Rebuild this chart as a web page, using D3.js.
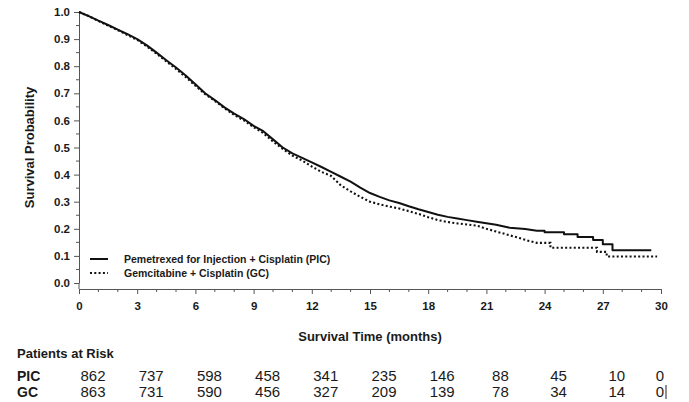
<!DOCTYPE html>
<html>
<head>
<meta charset="utf-8">
<script src="https://cdn.jsdelivr.net/npm/d3@7"></script>
<style>
  html, body { margin: 0; padding: 0; background: #fff; }
  svg { display: block; }
  text { font-family: "Liberation Sans", Arial, sans-serif; fill: #1a1a1a; }
</style>
</head>
<body>
<svg id="chart" width="689" height="402"></svg>
<script>
// ---- Data ----
// Kaplan-Meier estimates; repeated times mark the visible vertical drops of the tail steps.
const picTimes = [0,0.5,1,1.5,2,2.5,3,3.5,4,4.5,5,5.5,6,6.5,7,7.5,8,8.5,9,9.5,10,10.5,11,11.5,12,12.5,13,13.5,14,14.5,15,15.5,16,16.5,17,17.5,18,18.5,19,19.5,20,20.5,21.5,22.2,23,23.6,24,24,25,25,25.7,25.7,26.5,26.5,27,27,27.5,27.5,29.5];
const picSurv  = [1,0.985,0.968,0.952,0.935,0.918,0.900,0.877,0.850,0.822,0.795,0.766,0.733,0.70,0.675,0.648,0.625,0.605,0.58,0.56,0.53,0.50,0.478,0.462,0.445,0.428,0.41,0.392,0.374,0.352,0.332,0.318,0.305,0.295,0.283,0.272,0.262,0.252,0.244,0.238,0.232,0.226,0.215,0.204,0.199,0.193,0.193,0.187,0.187,0.18,0.18,0.17,0.17,0.159,0.159,0.143,0.143,0.121,0.121];

const gcTimes = [0,0.5,1,1.5,2,2.5,3,3.5,4,4.5,5,5.5,6,6.5,7,7.5,8,8.5,9,9.5,10,10.5,11,11.5,12,12.5,13,13.5,14,14.5,15,15.5,16,16.5,17,17.5,18,18.5,19,19.5,20,20.5,21,21.5,22,22.7,23.2,23.6,24.3,24.3,26.7,26.7,27.2,27.2,29.8];
const gcSurv  = [1,0.985,0.967,0.95,0.933,0.915,0.897,0.873,0.846,0.818,0.79,0.76,0.728,0.697,0.672,0.645,0.62,0.60,0.575,0.553,0.522,0.495,0.47,0.452,0.43,0.41,0.395,0.36,0.338,0.318,0.30,0.29,0.282,0.275,0.265,0.255,0.243,0.232,0.225,0.22,0.216,0.212,0.20,0.19,0.18,0.166,0.155,0.148,0.148,0.13,0.13,0.115,0.115,0.098,0.098];

const riskTimes = [0,3,6,9,12,15,18,21,24,27,30];
const picRisk = [862,737,598,458,341,235,146,88,45,10,0];
const gcRisk  = [863,731,590,456,327,209,139,78,34,14,0];

const xTicks = [0,3,6,9,12,15,18,21,24,27,30];
const yTicks = [0,0.1,0.2,0.3,0.4,0.5,0.6,0.7,0.8,0.9,1.0];

const seriesNames = ["Pemetrexed for Injection + Cisplatin (PIC)", "Gemcitabine + Cisplatin (GC)"];
const rowLabels = ["PIC", "GC"];

// ---- Layout ----
const svg = d3.select("#chart");
const x = d3.scaleLinear().domain([0, 30]).range([79, 661]);
const y = d3.scaleLinear().domain([0, 1]).range([283, 12]);
const xAxisY = 289;

// Y axis
const yAxis = d3.axisLeft(y).tickValues(yTicks).tickFormat(d3.format(".1f")).tickSize(5).tickSizeOuter(0).tickPadding(4);
const gy = svg.append("g").attr("transform", `translate(${x(0)},0)`).call(yAxis);
gy.selectAll("text").attr("font-size", 11.5).attr("font-weight", "bold");
gy.select(".domain").attr("stroke", "#555");
gy.selectAll(".tick line").attr("stroke", "#555");
svg.append("g").selectAll("line").data(d3.range(0.05, 1, 0.1)).join("line")
  .attr("x1", x(0) - 3).attr("x2", x(0)).attr("y1", d => y(d)).attr("y2", d => y(d)).attr("stroke", "#555");
svg.append("line").attr("x1", x(0)).attr("x2", x(0)).attr("y1", y(0)).attr("y2", xAxisY).attr("stroke", "#555");

// X axis
const xAxis = d3.axisBottom(x).tickValues(xTicks).tickSize(5).tickSizeOuter(0).tickPadding(8);
const gx = svg.append("g").attr("transform", `translate(0,${xAxisY})`).call(xAxis);
gx.selectAll("text").attr("font-size", 11.5).attr("font-weight", "bold");
gx.select(".domain").attr("stroke", "#555");
gx.selectAll(".tick line").attr("stroke", "#555");
svg.append("g").selectAll("line").data(d3.range(1, 30).filter(d => d % 3 !== 0)).join("line")
  .attr("x1", d => x(d)).attr("x2", d => x(d)).attr("y1", xAxisY).attr("y2", xAxisY + 3).attr("stroke", "#555");

// Axis titles
svg.append("text").attr("transform", `translate(34,${(y(0)+y(1))/2}) rotate(-90)`)
  .attr("text-anchor", "middle").attr("font-size", 13).attr("font-weight", "bold").text("Survival Probability");
svg.append("text").attr("x", x(15)).attr("y", 341)
  .attr("text-anchor", "middle").attr("font-size", 13).attr("font-weight", "bold").text("Survival Time (months)");

// Curves
const line = d3.line().x(d => x(d[0])).y(d => y(d[1])).curve(d3.curveLinear);
const picData = picTimes.map((t, i) => [t, picSurv[i]]);
const gcData = gcTimes.map((t, i) => [t, gcSurv[i]]);

svg.append("path").datum(gcData).attr("d", line).attr("fill", "none")
  .attr("stroke", "#111").attr("stroke-width", 2.1).attr("stroke-dasharray", "2,2.3");
svg.append("path").datum(picData).attr("d", line).attr("fill", "none")
  .attr("stroke", "#111").attr("stroke-width", 2).attr("stroke-linejoin", "round");

// Legend
const legend = svg.append("g");
const legY = [259, 273];
legend.append("line").attr("x1", 90).attr("x2", 108).attr("y1", legY[0]).attr("y2", legY[0])
  .attr("stroke", "#111").attr("stroke-width", 2);
legend.append("line").attr("x1", 90).attr("x2", 108).attr("y1", legY[1]).attr("y2", legY[1])
  .attr("stroke", "#111").attr("stroke-width", 2.1).attr("stroke-dasharray", "2,2.3");
seriesNames.forEach((name, i) => {
  legend.append("text").attr("x", 124).attr("y", legY[i] + 3.8)
    .attr("font-size", 10.5).attr("font-weight", "bold").text(name);
});

// Patients at risk
svg.append("text").attr("x", 17).attr("y", 358).attr("font-size", 13).attr("font-weight", "bold").text("Patients at Risk");
const rowY = [381, 397];
[picRisk, gcRisk].forEach((vals, r) => {
  svg.append("text").attr("x", 17).attr("y", rowY[r]).attr("font-size", 14).attr("font-weight", "bold").text(rowLabels[r]);
  svg.append("g").selectAll("text").data(vals).join("text")
    .attr("x", (d, i) => i === vals.length - 1 ? x(riskTimes[i]) + 3 : x(riskTimes[i]) + 14)
    .attr("y", rowY[r])
    .attr("text-anchor", (d, i) => i === vals.length - 1 ? "end" : "middle")
    .attr("font-family", "'Liberation Sans Narrow', 'Liberation Sans', Arial, sans-serif")
    .attr("font-size", 15)
    .text(d => d);
});
svg.append("line").attr("x1", x(30) + 5).attr("x2", x(30) + 5).attr("y1", 385).attr("y2", 399)
  .attr("stroke", "#222").attr("stroke-width", 1);
</script>
</body>
</html>
